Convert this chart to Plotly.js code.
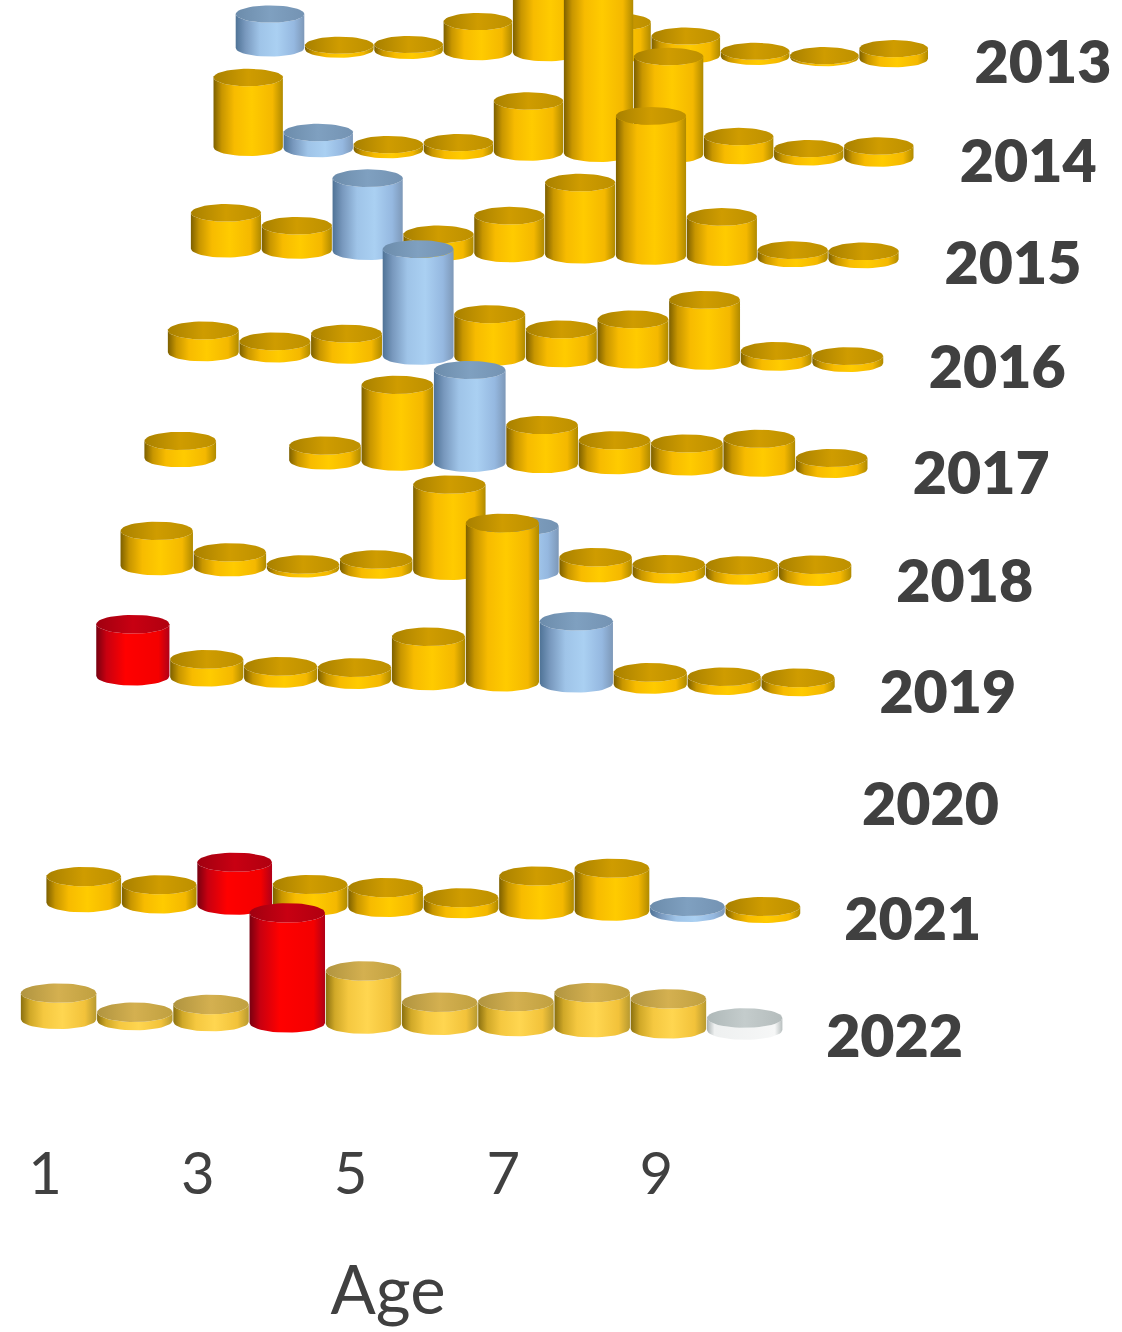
<!DOCTYPE html>
<html><head><meta charset="utf-8">
<script src="https://cdn.plot.ly/plotly-3.0.1.min.js"></script>
<style>html,body{margin:0;padding:0;background:#fff}#chart{width:1122px;height:1332px;filter:blur(0.7px)}</style>
</head><body><div id="chart"></div>
<script>
const ages = [1,2,3,4,5,6,7,8,9,10];
const years = [2013,2014,2015,2016,2017,2018,2019,2020,2021,2022];
const tickAges = [1,3,5,7,9];
const y2013 = [8.7,1.0,1.5,7.7,20.5,8.2,4.9,1.3,0.5,2.6];
const y2014 = [17.9,4.1,1.3,2.1,13.1,48.7,25.1,4.9,2.1,3.1];
const y2015 = [9.2,6.2,18.7,4.6,9.7,18.5,35.9,10.3,2.1,2.1];
const y2016 = [5.6,3.1,5.4,27.4,11.0,7.4,10.3,15.6,2.8,1.8];
const y2017 = [4.4,null,3.8,19.7,23.8,10.0,6.4,5.9,7.4,2.8];
const y2018 = [9.0,3.8,1.0,2.6,22.1,11.8,4.1,2.6,2.6,3.1];
const y2019 = [13.3,4.6,3.1,3.1,11.3,40.8,15.9,3.1,2.3,2.3];
const y2020 = [null,null,null,null,null,null,null,null,null,null];
const y2021 = [6.7,4.9,11.0,5.6,5.1,2.8,8.7,11.0,1.5,1.8];
const y2022 = [6.7,2.1,4.4,28.2,13.6,5.9,6.4,9.0,7.7,3.1];
const rows = [y2013,y2014,y2015,y2016,y2017,y2018,y2019,y2020,y2021,y2022];
const blueAge = {2013:1,2014:2,2015:3,2016:4,2017:5,2018:6,2019:7,2021:9};
const redAge = {2019:1,2021:3,2022:4};
const paleAge = {2022:10};
const washedYear = 2022;

const palettes = {
  gold:{body:[[0,'#7d6000'],[0.12,'#c89600'],[0.3,'#f7bb00'],[0.55,'#ffcb00'],[0.85,'#f4b800'],[1,'#b08a00']],top:[[0,'#a88000'],[0.5,'#cf9c00'],[1,'#bd9000']]},
  washed:{body:[[0,'#8a7010'],[0.12,'#d0a828'],[0.3,'#f5c840'],[0.55,'#ffd650'],[0.85,'#f2c23a'],[1,'#b89a30']],top:[[0,'#b09440'],[0.5,'#d4b050'],[1,'#c0a040']]},
  blue:{body:[[0,'#4f7396'],[0.14,'#7898bd'],[0.35,'#9fc4e8'],[0.6,'#aad0f2'],[0.85,'#95b8e0'],[1,'#7d98b8']],top:[[0,'#6c8cab'],[0.5,'#7fa0c0'],[1,'#7493b3']]},
  red:{body:[[0,'#780010'],[0.14,'#c80010'],[0.4,'#ff0000'],[0.85,'#f40000'],[1,'#b00018']],top:[[0,'#a00010'],[0.5,'#c80012'],[1,'#b00010']]},
  pale:{body:[[0,'#aab2b2'],[0.1,'#eef0f0'],[0.9,'#f6f7f7'],[1,'#b8bfbf']],top:[[0,'#aeb8b8'],[0.5,'#c4cccc'],[1,'#b4bcbc']]}
};

const pxPerUnit = 3.9;
const axisLeft = 45, axisStep = 76.4;
const rowLeft = r => 270 - 21.6*r - 0.21*r*r;
const rowStep = r => 69.3 + 0.77*r;
const rowBase = r => 48 + 98.2*r + 1.08*r*r;
const rowTilt = 1.2;
const toAxis = px => (px - axisLeft)/axisStep + 1;

function kindOf(year, age){
  if(blueAge[year]===age) return 'blue';
  if(redAge[year]===age) return 'red';
  if(paleAge[year]===age) return 'pale';
  return year===washedYear ? 'washed' : 'gold';
}
function cylinder(r, age, value){
  const step = rowStep(r), cx = rowLeft(r) + (age-1)*step;
  const base = rowBase(r) + (age-1)*rowTilt, h = value*pxPerUnit;
  const rx = 0.495*step, ry = 8.6 + 0.13*r;
  const bx=[], by=[], tx=[], ty=[];
  for(let i=0;i<=24;i++){const t=Math.PI*i/24; bx.push(cx-rx*Math.cos(t)); by.push(base+ry*Math.sin(t));}
  for(let i=24;i>=0;i--){const t=Math.PI*i/24; bx.push(cx-rx*Math.cos(t)); by.push(base-h+ry*Math.sin(t));}
  for(let i=0;i<=48;i++){const t=2*Math.PI*i/48; tx.push(cx+rx*Math.cos(t)); ty.push(base-h+ry*Math.sin(t));}
  return {bx:bx.map(toAxis),by,tx:tx.map(toAxis),ty};
}

const traces = [{type:'scatter',mode:'none',x:tickAges,y:tickAges.map(()=>null),showlegend:false,hoverinfo:'skip'}];
rows.forEach((vals,r)=>{
  vals.forEach((v,i)=>{
    if(v===null) return;
    const year=years[r], age=ages[i], c=cylinder(r,age,v), pal=palettes[kindOf(year,age)];
    const common={xaxis:'x2',yaxis:'y',mode:'lines',line:{width:0},fill:'toself',showlegend:false,hoverinfo:'text',text:year+', age '+age+': '+v+'%'};
    traces.push(Object.assign({type:'scatter',x:c.bx,y:c.by,fillgradient:{type:'horizontal',colorscale:pal.body}},common));
    traces.push(Object.assign({type:'scatter',x:c.tx,y:c.ty,fillgradient:{type:'horizontal',colorscale:pal.top}},common));
  });
});
traces.push({type:'scatter',xaxis:'x2',yaxis:'y',mode:'text',showlegend:false,hoverinfo:'skip',
  x:years.map((y,r)=>toAxis(270 - 21.6*r - 0.21*r*r + 10*(69.3 + 0.8*r)+80-r)),
  y:years.map((y,r)=>rowBase(r)+20+0.33*r),
  text:years.map(String),textposition:'middle center',
  textfont:{family:'Lato, "Open Sans", sans-serif',size:59,weight:800,color:'#404040'}});

Plotly.newPlot('chart',traces,{
  width:1122,height:1332,paper_bgcolor:'#fff',plot_bgcolor:'rgba(0,0,0,0)',showlegend:false,
  margin:{l:0,r:0,t:0,b:212},
  xaxis:{domain:[0,776/1122],anchor:'y',range:[toAxis(0),toAxis(776)],tickmode:'array',tickvals:tickAges,ticktext:tickAges.map(String),
    showgrid:false,zeroline:false,showline:false,ticks:'',ticklabelstandoff:15,automargin:false,
    tickfont:{family:'Lato, "Open Sans", sans-serif',size:58,color:'#404040'},
    title:{text:'Age',standoff:62,font:{family:'Lato, "Open Sans", sans-serif',size:67,color:'#404040'}}},
  xaxis2:{domain:[0,1],anchor:'y',range:[toAxis(0),toAxis(1122)],visible:false},
  yaxis:{range:[1120,0],visible:false}
},{staticPlot:true,displayModeBar:false});
</script></body></html>
